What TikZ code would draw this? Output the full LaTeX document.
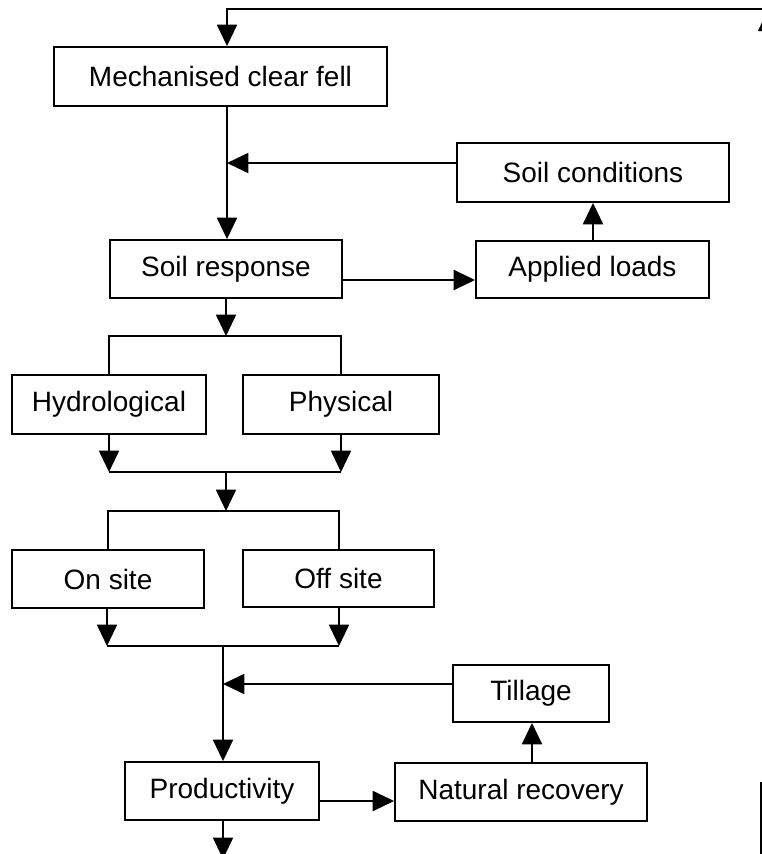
\documentclass[tikz,border=0pt]{standalone}
\usepackage{fontspec}
\setmainfont{Liberation Sans}
\usetikzlibrary{arrows.meta}
\begin{document}
\begin{tikzpicture}[x=0.75pt,y=-0.75pt,
  box/.style={draw, line width=1.4pt, rectangle, inner sep=0pt, font=\fontsize{21}{25}\selectfont},
  ln/.style={line width=1.4pt},
  arr/.style={ln, -{Triangle[length=16pt,width=15pt]}}]
\useasboundingbox (0,0) rectangle (762,854);
\clip (0,0) rectangle (762,854);

% boxes
\node[box, minimum width=249.75pt, minimum height=44.25pt] (mcf) at (220.5,76.5) {Mechanised clear fell};
\node[box, minimum width=204pt, minimum height=44.25pt] (sc) at (593,172.5) {Soil conditions};
\node[box, minimum width=174.75pt, minimum height=42.75pt] (al) at (592.5,269.5) {Applied loads};
\node[box, minimum width=174pt, minimum height=43.5pt] (sr) at (226,269) {Soil response};
\node[box, minimum width=145.5pt, minimum height=44.25pt] (hy) at (109,404.5) {Hydrological};
\node[box, minimum width=147pt, minimum height=44.25pt] (ph) at (341,404.5) {Physical};
\node[box, minimum width=144pt, minimum height=43.5pt] (on) at (108,579) {On site};
\node[box, minimum width=143.25pt, minimum height=42.75pt] (off) at (338.5,578.5) {Off site};
\node[box, minimum width=117pt, minimum height=42.75pt] (ti) at (531,693.5) {Tillage};
\node[box, minimum width=145.5pt, minimum height=43.5pt] (pr) at (222,791) {Productivity};
\node[box, minimum width=189pt, minimum height=43.5pt] (nr) at (521,792) {Natural recovery};

% helper coordinates
\coordinate (tR) at (775,9);
\coordinate (t1) at (227,9);
\coordinate (j1) at (227,163);
\coordinate (y1) at (0,280);
\coordinate (xa) at (593,0);
\coordinate (b1) at (226,336);
\coordinate (b1l) at (109,336);
\coordinate (b1r) at (341,336);
\coordinate (m1l) at (109,472);
\coordinate (m1r) at (341,472);
\coordinate (m1) at (226,472);
\coordinate (b2) at (226,511);
\coordinate (b2l) at (108,511);
\coordinate (b2r) at (339,511);
\coordinate (m2l) at (107,646);
\coordinate (m2r) at (339,646);
\coordinate (m2) at (223,646);
\coordinate (j2) at (223,684);
\coordinate (y2) at (0,801);
\coordinate (xn) at (532,0);
\coordinate (out) at (223,859);
\coordinate (e1) at (761,782);
\coordinate (e2) at (761,860);

% top feedback line
\draw[arr] (tR) -- (t1) -- (t1 |- mcf.north);
\fill (758,31) -- (768,9) -- (778,31) -- cycle;

% mechanised -> soil response, with soil conditions input
\draw[arr] (mcf.south -| t1) -- (sr.north -| t1);
\draw[arr] (sc.west |- j1) -- (j1);
\draw[arr] (sr.east |- y1) -- (al.west |- y1);
\draw[arr] (al.north -| xa) -- (sc.south -| xa);

% split into hydrological / physical
\draw[arr] (sr.south -| b1) -- (b1);
\draw[ln] (hy.north -| b1l) -- (b1l) -- (b1r) -- (ph.north -| b1r);
\draw[arr] (hy.south -| m1l) -- (m1l);
\draw[arr] (ph.south -| m1r) -- (m1r);
\draw[ln] (m1l) -- (m1r);

% split into on site / off site
\draw[arr] (m1) -- (b2);
\draw[ln] (on.north -| b2l) -- (b2l) -- (b2r) -- (off.north -| b2r);
\draw[arr] (on.south -| m2l) -- (m2l);
\draw[arr] (off.south -| m2r) -- (m2r);
\draw[ln] (m2l) -- (m2r);

% to productivity
\draw[arr] (m2) -- (pr.north -| m2);
\draw[arr] (ti.west |- j2) -- (j2);
\draw[arr] (pr.east |- y2) -- (nr.west |- y2);
\draw[arr] (nr.north -| xn) -- (ti.south -| xn);
\draw[arr] (pr.south -| out) -- (out);

% right edge line
\draw[ln] (e1) -- (e2);
\end{tikzpicture}
\end{document}
